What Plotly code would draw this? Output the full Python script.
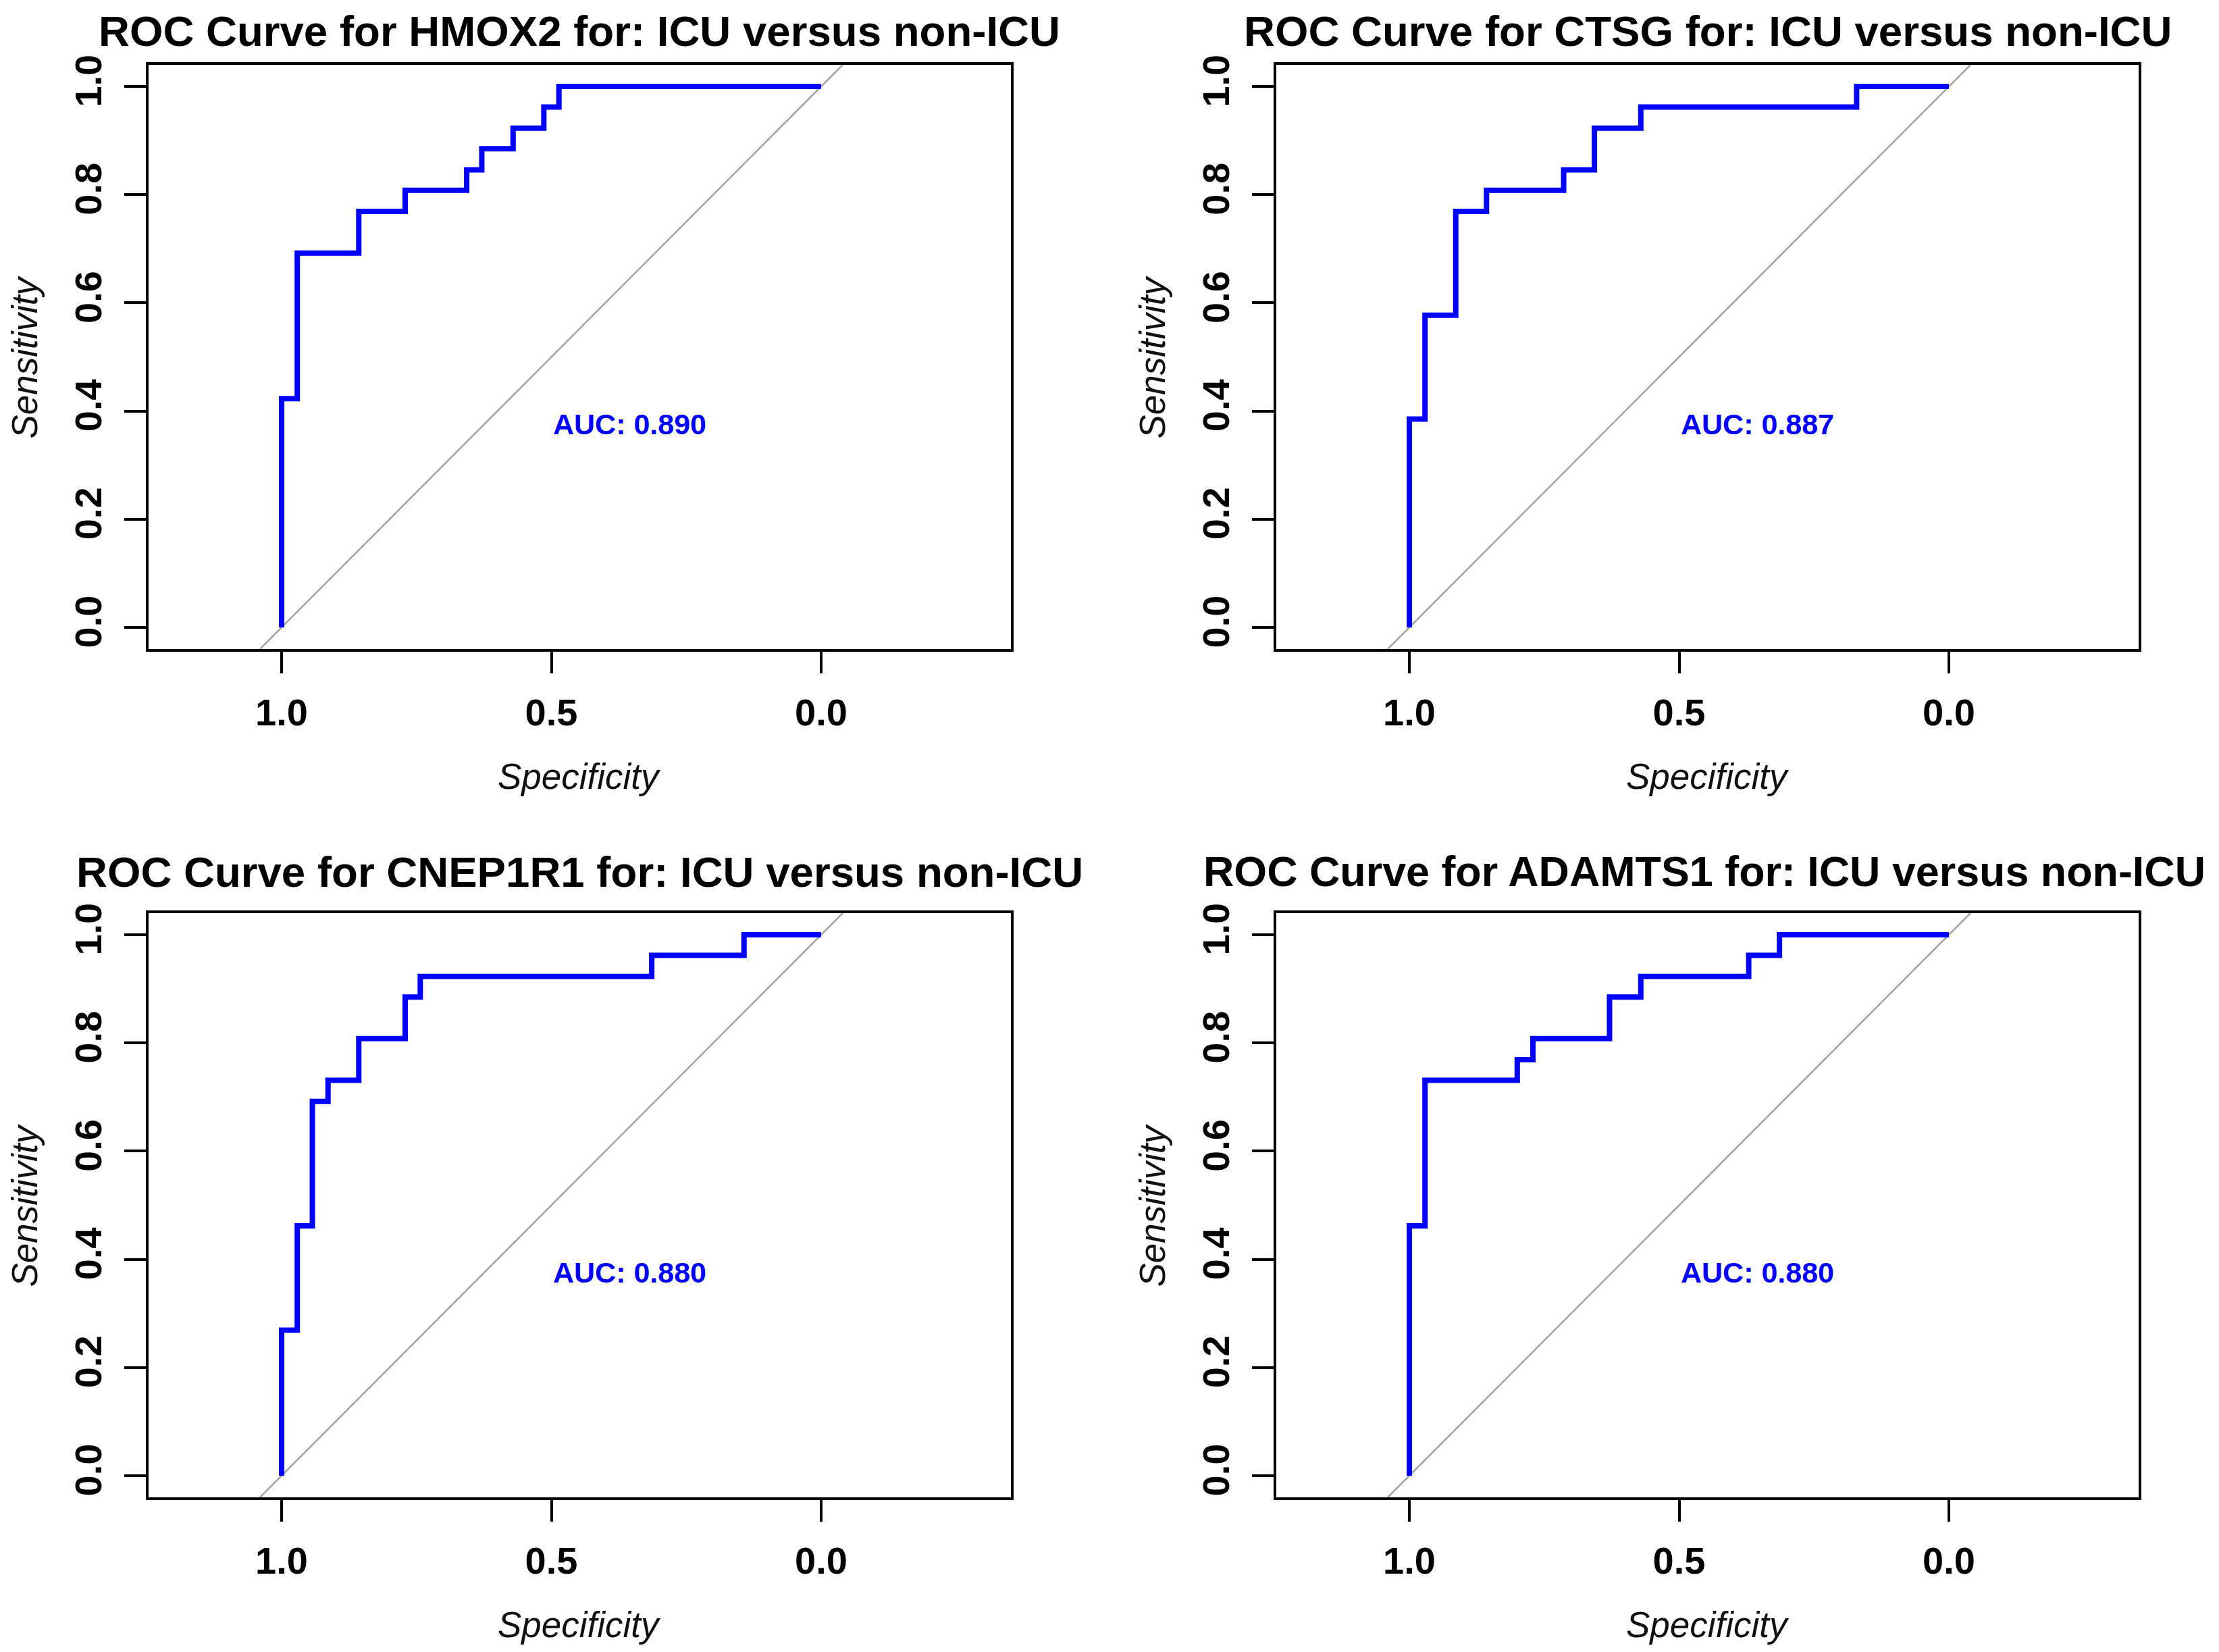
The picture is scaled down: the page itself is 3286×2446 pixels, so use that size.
import plotly.graph_objects as go

# page is 3286x2446; the HTML body has an 8px default margin, so the figure is
# made 16px smaller and all pixel positions are shifted by that margin
PAGE_W, PAGE_H = 3286, 2446
OFF = 8
W, H = PAGE_W - 2 * OFF, PAGE_H - 2 * OFF

titles = [
    "ROC Curve for HMOX2 for: ICU versus non-ICU",
    "ROC Curve for CTSG for: ICU versus non-ICU",
    "ROC Curve for CNEP1R1 for: ICU versus non-ICU",
    "ROC Curve for ADAMTS1 for: ICU versus non-ICU",
]
auc_labels = ["AUC: 0.890", "AUC: 0.887", "AUC: 0.880", "AUC: 0.880"]

# ROC corner points (specificity, sensitivity), drawn as vertical-then-horizontal steps
hmox2_spec = [1.0, 0.971, 0.857, 0.771, 0.657, 0.629, 0.571, 0.514, 0.486, 0.0]
hmox2_sens = [0.0, 0.423, 0.692, 0.769, 0.808, 0.846, 0.885, 0.923, 0.962, 1.0]

ctsg_spec = [1.0, 0.971, 0.914, 0.857, 0.714, 0.657, 0.571, 0.171, 0.0]
ctsg_sens = [0.0, 0.385, 0.577, 0.769, 0.808, 0.846, 0.923, 0.962, 1.0]

cnep1r1_spec = [1.0, 0.971, 0.943, 0.914, 0.857, 0.771, 0.743, 0.314, 0.143, 0.0]
cnep1r1_sens = [0.0, 0.269, 0.462, 0.692, 0.731, 0.808, 0.885, 0.923, 0.962, 1.0]

adamts1_spec = [1.0, 0.971, 0.800, 0.771, 0.629, 0.571, 0.371, 0.314, 0.0]
adamts1_sens = [0.0, 0.462, 0.731, 0.769, 0.808, 0.885, 0.923, 0.962, 1.0]

x_tickvals = [1.0, 0.5, 0.0]
x_ticktext = ["1.0", "0.5", "0.0"]
y_tickvals = [0.0, 0.2, 0.4, 0.6, 0.8, 1.0]
y_ticktext = ["0.0", "0.2", "0.4", "0.6", "0.8", "1.0"]

X_RANGE = [1.2466, -0.3517]
Y_RANGE = [-0.04, 1.04]

curves = [
    (hmox2_spec, hmox2_sens),
    (ctsg_spec, ctsg_sens),
    (cnep1r1_spec, cnep1r1_sens),
    (adamts1_spec, adamts1_sens),
]

# layout geometry (pixels of the 3286x2446 page)
col_px = [(220, 1497), (1890, 3167)]
row_px = [(96, 961), (1352, 2217)]
title_gap = [50, 62]
title_size = [63.6, 63.6, 63.6, 62.8]
title_shift = [0, 0, 0, -5]


def px_x(p):
    return (p - OFF) / W


def px_y(p):
    return 1 - (p - OFF) / H


FONT = "Liberation Sans, Arial, sans-serif"

fig = go.Figure()
annotations = []
layout_axes = {}

for i in range(4):
    r, c = divmod(i, 2)
    xl, xr = col_px[c]
    yt, yb = row_px[r]
    n = "" if i == 0 else str(i + 1)
    xa = "x" + n
    ya = "y" + n
    spec, sens = curves[i]

    diag_y = Y_RANGE
    diag_x = [1 - v for v in diag_y]
    fig.add_trace(go.Scatter(x=diag_x, y=diag_y, mode="lines",
                             line=dict(color="#a3a3a3", width=2.5),
                             xaxis=xa, yaxis=ya, hoverinfo="skip"))
    fig.add_trace(go.Scatter(x=spec, y=sens, mode="lines",
                             line=dict(color="#0000ff", width=8, shape="vh"),
                             xaxis=xa, yaxis=ya))

    common = dict(showgrid=False, zeroline=False, showline=True, mirror=True,
                  automargin=False,
                  linecolor="black", linewidth=3.5, ticks="outside", ticklen=32,
                  tickwidth=3.5, tickcolor="black",
                  tickfont=dict(family=FONT, size=56, color="black", weight="bold"))
    layout_axes["xaxis" + n] = dict(common, domain=[px_x(xl), px_x(xr)], range=X_RANGE,
                                    tickvals=x_tickvals, ticktext=x_ticktext,
                                    anchor=ya, ticklabelstandoff=10)
    layout_axes["yaxis" + n] = dict(common, domain=[px_y(yb), px_y(yt)], range=Y_RANGE,
                                    tickvals=y_tickvals, ticktext=y_ticktext,
                                    tickangle=-90, anchor=xa, ticklabelstandoff=12)

    cx = px_x((xl + xr) / 2)
    # panel title
    annotations.append(dict(text=titles[i], xref="paper", yref="paper",
                            x=px_x((xl + xr) / 2 + title_shift[i]),
                            y=px_y(yt - title_gap[r]), xanchor="center", yanchor="middle",
                            showarrow=False,
                            font=dict(family=FONT, size=title_size[i], color="black",
                                      weight="bold")))
    # x axis title
    annotations.append(dict(text="Specificity", xref="paper", yref="paper",
                            x=cx, y=px_y(yb + 188), xanchor="center", yanchor="middle",
                            showarrow=False,
                            font=dict(family=FONT, size=53, color="#111111", style="italic")))
    # y axis title
    annotations.append(dict(text="Sensitivity", xref="paper", yref="paper",
                            x=px_x(xl - 184), y=px_y((yt + yb) / 2),
                            xanchor="center", yanchor="middle", textangle=-90,
                            showarrow=False,
                            font=dict(family=FONT, size=53, color="#111111", style="italic")))
    # AUC label
    annotations.append(dict(text=auc_labels[i], xref=xa, yref=ya,
                            x=0.5, y=0.376, xanchor="left", yanchor="middle",
                            showarrow=False,
                            font=dict(family=FONT, size=43, color="#0000ff", weight="bold")))

fig.update_layout(width=W, height=H, margin=dict(l=0, r=0, t=0, b=0, autoexpand=False),
                  paper_bgcolor="white", plot_bgcolor="white", showlegend=False,
                  annotations=annotations, **layout_axes)

fig.write_html("out.html")
